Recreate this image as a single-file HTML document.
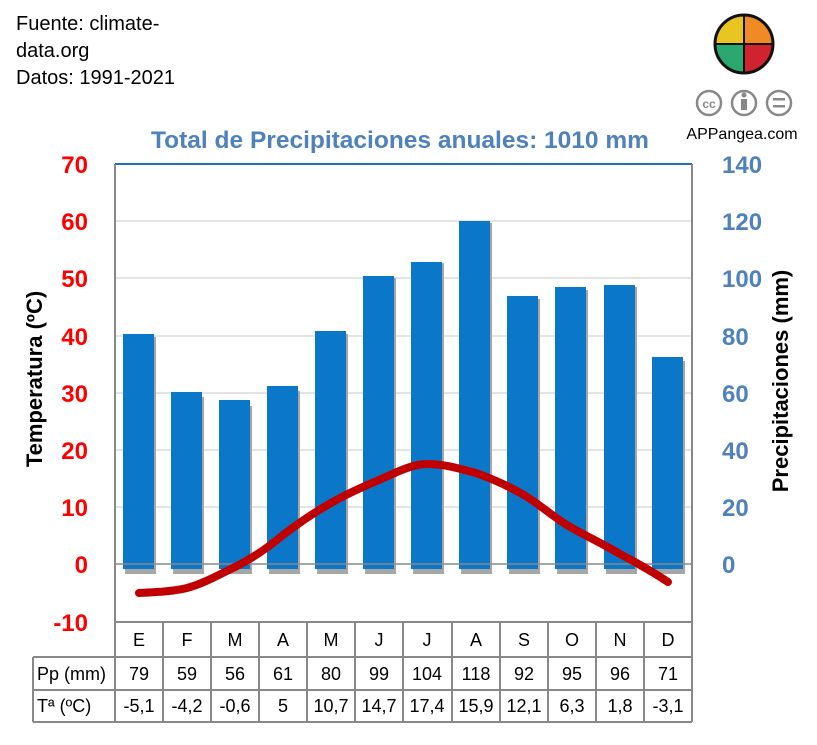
<!DOCTYPE html>
<html><head><meta charset="utf-8"><style>
body{margin:0;background:#fff;}
svg{display:block;font-family:"Liberation Sans",sans-serif;}
</style></head><body>
<svg width="817" height="745" viewBox="0 0 817 745" xmlns="http://www.w3.org/2000/svg">
<g font-size="20" fill="#000">
<text x="16" y="30">Fuente: climate-</text>
<text x="16" y="57">data.org</text>
<text x="16" y="84">Datos: 1991-2021</text>
</g>
<text x="400" y="148" text-anchor="middle" font-size="24.5" font-weight="bold" fill="#4f81bd">Total de Precipitaciones anuales: 1010 mm</text>
<g transform="translate(744,44)">
<clipPath id="c"><circle r="29"/></clipPath>
<g clip-path="url(#c)">
<rect x="-30" y="-30" width="30" height="30" fill="#e8c520"/>
<rect x="0" y="-30" width="30" height="30" fill="#f08a24"/>
<rect x="-30" y="0" width="30" height="30" fill="#2aa870"/>
<rect x="0" y="0" width="30" height="30" fill="#d0232f"/>
</g>
<circle r="29" fill="none" stroke="#111" stroke-width="3"/>
<line x1="-29" y1="0" x2="29" y2="0" stroke="#111" stroke-width="2"/>
<line x1="0" y1="-29" x2="0" y2="29" stroke="#111" stroke-width="2"/>
</g>
<g fill="none" stroke="#888" stroke-width="2.5">
<circle cx="709" cy="103" r="12"/><circle cx="744" cy="103" r="12"/><circle cx="779" cy="103" r="12"/>
</g>
<text x="709" y="108" text-anchor="middle" font-size="12" font-weight="bold" fill="#888">cc</text>
<rect x="741" y="99" width="6" height="11" fill="#888"/><circle cx="744" cy="95" r="2.5" fill="#888"/>
<rect x="773" y="98" width="12" height="2.5" fill="#888"/><rect x="773" y="105" width="12" height="2.5" fill="#888"/>
<text x="742" y="139" text-anchor="middle" font-size="16">APPangea.com</text>
<g stroke="#c8c8c8" stroke-width="1">
<line x1="115" x2="692" y1="221" y2="221"/><line x1="115" x2="692" y1="278" y2="278"/>
<line x1="115" x2="692" y1="336" y2="336"/><line x1="115" x2="692" y1="393" y2="393"/>
<line x1="115" x2="692" y1="450" y2="450"/><line x1="115" x2="692" y1="507" y2="507"/>
</g>
<g fill="#a6a6a6">
<rect x="125" y="337" width="31" height="237"/><rect x="173" y="397" width="31" height="177"/>
<rect x="221" y="406" width="31" height="168"/><rect x="269" y="391" width="31" height="183"/>
<rect x="317" y="334" width="31" height="240"/><rect x="365" y="278" width="31" height="296"/>
<rect x="413" y="263" width="31" height="311"/><rect x="461" y="223" width="31" height="351"/>
<rect x="509" y="299" width="31" height="275"/><rect x="557" y="290" width="31" height="284"/>
<rect x="606" y="287" width="31" height="287"/><rect x="654" y="361" width="31" height="213"/>
</g>
<g fill="#0b77c8">
<rect x="123" y="334" width="31" height="235"/><rect x="171" y="392" width="31" height="177"/>
<rect x="219" y="400" width="31" height="169"/><rect x="267" y="386" width="31" height="183"/>
<rect x="315" y="331" width="31" height="238"/><rect x="363" y="276" width="31" height="293"/>
<rect x="411" y="262" width="31" height="307"/><rect x="459" y="221" width="31" height="348"/>
<rect x="507" y="296" width="31" height="273"/><rect x="555" y="287" width="31" height="282"/>
<rect x="604" y="285" width="31" height="284"/><rect x="652" y="357" width="31" height="212"/>
</g>
<line x1="115" x2="692" y1="564" y2="564" stroke="#888" stroke-width="1.5"/>
<line x1="115" x2="692" y1="164" y2="164" stroke="#1f6fbf" stroke-width="2"/>
<line x1="115" x2="115" y1="164" y2="722" stroke="#888" stroke-width="2"/>
<line x1="692" x2="692" y1="164" y2="722" stroke="#888" stroke-width="2"/>
<path d="M139,593 C160,592 175,591 187,588 C205,583 220,574 235,567 C255,557 270,546 283,535 C300,522 315,512 331,503 C350,492 365,486 379,480 C395,473 412,464 427,464 C445,464 460,469 476,473 C493,479 510,487 524,495 C542,506 557,520 572,528 C590,538 605,545 620,554 C637,563 653,572 668,582" fill="none" stroke="#c00000" stroke-width="8" stroke-linecap="round" stroke-linejoin="round"/>
<g font-size="24" font-weight="bold" fill="#ff0000" text-anchor="end">
<text x="88" y="173">70</text><text x="88" y="230">60</text><text x="88" y="287">50</text>
<text x="88" y="345">40</text><text x="88" y="402">30</text><text x="88" y="459">20</text>
<text x="88" y="516">10</text><text x="88" y="573">0</text><text x="88" y="631">-10</text>
</g>
<g font-size="24" font-weight="bold" fill="#4f81bd">
<text x="722" y="173">140</text><text x="722" y="230">120</text><text x="722" y="287">100</text>
<text x="722" y="345">80</text><text x="722" y="402">60</text><text x="722" y="459">40</text>
<text x="722" y="516">20</text><text x="722" y="573">0</text>
</g>
<text transform="translate(42,379) rotate(-90)" text-anchor="middle" font-size="22" font-weight="bold">Temperatura (ºC)</text>
<text transform="translate(788,381) rotate(-90)" text-anchor="middle" font-size="22" font-weight="bold">Precipitaciones (mm)</text>
<g stroke="#888" stroke-width="2">
<line x1="115" x2="692" y1="622" y2="622"/>
<line x1="33" x2="692" y1="657" y2="657"/>
<line x1="33" x2="692" y1="690" y2="690"/>
<line x1="33" x2="692" y1="722" y2="722"/>
<line x1="33" x2="33" y1="657" y2="722"/>
<line x1="163" x2="163" y1="622" y2="722"/><line x1="211" x2="211" y1="622" y2="722"/>
<line x1="259" x2="259" y1="622" y2="722"/><line x1="307" x2="307" y1="622" y2="722"/>
<line x1="355" x2="355" y1="622" y2="722"/><line x1="403" x2="403" y1="622" y2="722"/>
<line x1="452" x2="452" y1="622" y2="722"/><line x1="500" x2="500" y1="622" y2="722"/>
<line x1="548" x2="548" y1="622" y2="722"/><line x1="596" x2="596" y1="622" y2="722"/>
<line x1="644" x2="644" y1="622" y2="722"/>
</g>
<g font-size="18" text-anchor="middle">
<text x="139" y="646">E</text><text x="187" y="646">F</text><text x="235" y="646">M</text><text x="283" y="646">A</text>
<text x="331" y="646">M</text><text x="379" y="646">J</text><text x="427" y="646">J</text><text x="476" y="646">A</text>
<text x="524" y="646">S</text><text x="572" y="646">O</text><text x="620" y="646">N</text><text x="668" y="646">D</text>
<text x="139" y="680">79</text><text x="187" y="680">59</text><text x="235" y="680">56</text><text x="283" y="680">61</text>
<text x="331" y="680">80</text><text x="379" y="680">99</text><text x="427" y="680">104</text><text x="476" y="680">118</text>
<text x="524" y="680">92</text><text x="572" y="680">95</text><text x="620" y="680">96</text><text x="668" y="680">71</text>
<text x="139" y="712">-5,1</text><text x="187" y="712">-4,2</text><text x="235" y="712">-0,6</text><text x="283" y="712">5</text>
<text x="331" y="712">10,7</text><text x="379" y="712">14,7</text><text x="427" y="712">17,4</text><text x="476" y="712">15,9</text>
<text x="524" y="712">12,1</text><text x="572" y="712">6,3</text><text x="620" y="712">1,8</text><text x="668" y="712">-3,1</text>
</g>
<g font-size="18">
<text x="37" y="680">Pp (mm)</text>
<text x="37" y="712">Tª (ºC)</text>
</g>
</svg>
</body></html>
